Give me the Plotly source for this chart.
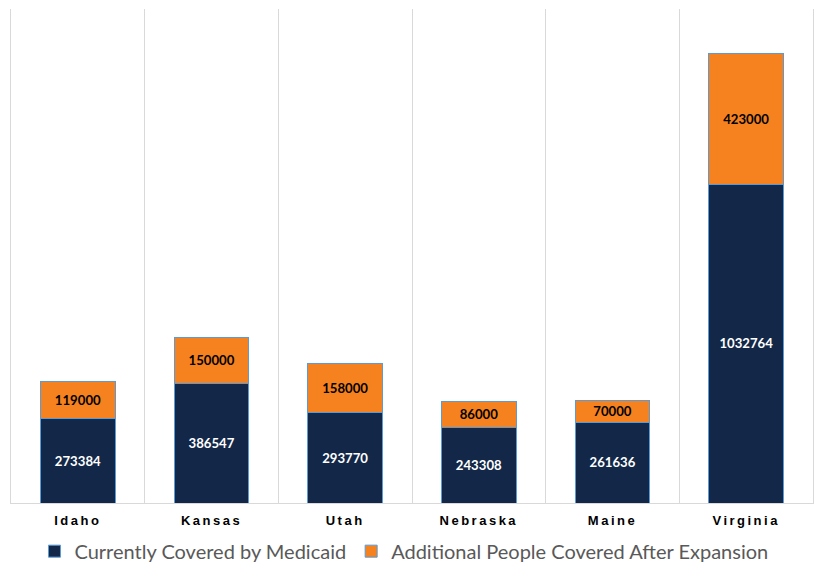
import plotly.graph_objects as go

states = ["Idaho", "Kansas", "Utah", "Nebraska", "Maine", "Virginia"]
current = [273384, 386547, 293770, 243308, 261636, 1032764]
additional = [119000, 150000, 158000, 86000, 70000, 423000]

navy = "#132848"
orange = "#F5821F"
outline = "#5B9BD5"
grid = "#D9D9D9"

fig = go.Figure()
fig.add_trace(go.Bar(
    x=states, y=current, name="Currently Covered by Medicaid",
    marker=dict(color=navy, line=dict(color=outline, width=1)),
    text=[str(v) for v in current], textposition="inside",
    insidetextanchor="middle", textangle=0,
    textfont=dict(family="Lato", size=13.5, color="white", weight="bold"),
))
fig.add_trace(go.Bar(
    x=states, y=additional, name="Additional People Covered After Expansion",
    marker=dict(color=orange, line=dict(color=outline, width=1)),
    text=[str(v) for v in additional], textposition="inside",
    insidetextanchor="middle", textangle=0,
    textfont=dict(family="Lato", size=13.5, color="black", weight="bold"),
))

fig.update_layout(
    barmode="stack",
    bargap=0.44,
    width=830, height=579,
    margin=dict(l=11, r=17, t=9, b=76, autoexpand=False),
    paper_bgcolor="white", plot_bgcolor="white",
    showlegend=True,
    legend=dict(orientation="h", x=0.49, xanchor="center", y=-0.058, yanchor="top",
                font=dict(family="Lato", size=20, color="#595959"),
                traceorder="normal", itemwidth=30),
    uniformtext=dict(minsize=8, mode="show"),
)
fig.update_xaxes(
    tickmode="array", tickvals=states,
    ticktext=[f'<span style="letter-spacing:2.5px">{s}</span>' for s in states],
    tickfont=dict(family="Liberation Sans", size=13, color="black", weight="bold"),
    showgrid=True, gridcolor=grid, gridwidth=1, tickson="boundaries",
    ticks="", showline=True, linecolor=grid, linewidth=1, mirror=False,
    ticklabelstandoff=5, automargin=False,
)
fig.update_yaxes(range=[0, 1600000], showgrid=False, showticklabels=False,
                 zeroline=False, showline=True, linecolor=grid, linewidth=1,
                 mirror=True, automargin=False)

fig.write_html("out.html")
